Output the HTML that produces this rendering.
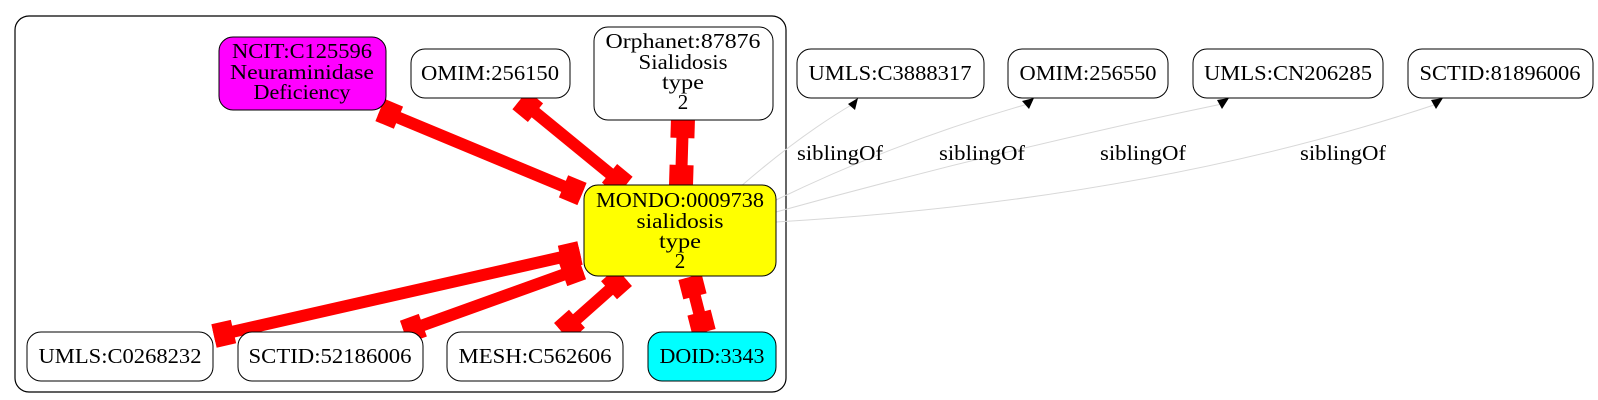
<!DOCTYPE html>
<html><head><meta charset="utf-8"><style>
html,body{margin:0;padding:0;background:#fff;}
svg{display:block;}
text{font-family:"Liberation Serif",serif;font-size:21px;fill:#000;}
</style></head><body>
<svg width="1598" height="400" viewBox="0 0 1598 400" xmlns="http://www.w3.org/2000/svg">
<rect x="15" y="16" width="771" height="376" rx="14" fill="#fff" stroke="#000" stroke-width="1.2"/>

<g fill="none" stroke="#d8d8d8" stroke-width="1">
<path d="M740,187 Q800,135 853,104"/>
<path d="M776,200 Q900,140 1028,104"/>
<path d="M776,212 Q1000,150 1222,104"/>
<path d="M776,222 Q1150,200 1437,104"/>
</g>
<g fill="#000">
<polygon points="858,98 848,104 855,110"/>
<polygon points="1034,98 1022,101 1029,109"/>
<polygon points="1229,98 1217,100 1222,109"/>
<polygon points="1443,98 1431,100 1436,109"/>
</g>
<g text-anchor="middle" lengthAdjust="spacingAndGlyphs">
<text x="840" y="160" textLength="86" lengthAdjust="spacingAndGlyphs">siblingOf</text>
<text x="982" y="160" textLength="86" lengthAdjust="spacingAndGlyphs">siblingOf</text>
<text x="1143" y="160" textLength="86" lengthAdjust="spacingAndGlyphs">siblingOf</text>
<text x="1343" y="160" textLength="86" lengthAdjust="spacingAndGlyphs">siblingOf</text>
</g>

<g stroke="red" stroke-width="12">
<line x1="380" y1="110" x2="582" y2="194"/>
<line x1="520" y1="100" x2="625" y2="186"/>
<line x1="683" y1="118" x2="681" y2="185"/>
<line x1="214" y1="336" x2="580" y2="253"/>
<line x1="404" y1="332" x2="582" y2="268"/>
<line x1="562" y1="332" x2="624" y2="277"/>
<line x1="704" y1="332" x2="690" y2="277"/>
</g>
<g fill="red">
<rect x="0" y="-12" width="20" height="24" transform="translate(380,110) rotate(22.6)"/>
<rect x="0" y="-12" width="20" height="24" transform="translate(582,194) rotate(202.6)"/>
<rect x="0" y="-12" width="20" height="24" transform="translate(520,100) rotate(39.3)"/>
<rect x="0" y="-12" width="20" height="24" transform="translate(625,186) rotate(219.3)"/>
<rect x="0" y="-12" width="20" height="24" transform="translate(683,118) rotate(91.7)"/>
<rect x="0" y="-12" width="20" height="24" transform="translate(681,185) rotate(271.7)"/>
<rect x="0" y="-12" width="20" height="24" transform="translate(214,336) rotate(-12.8)"/>
<rect x="0" y="-12" width="20" height="24" transform="translate(580,253) rotate(167.2)"/>
<rect x="0" y="-12" width="20" height="24" transform="translate(404,332) rotate(-19.8)"/>
<rect x="0" y="-12" width="20" height="24" transform="translate(582,268) rotate(160.2)"/>
<rect x="0" y="-12" width="20" height="24" transform="translate(562,332) rotate(-41.6)"/>
<rect x="0" y="-12" width="20" height="24" transform="translate(624,277) rotate(138.4)"/>
<rect x="0" y="-12" width="20" height="24" transform="translate(704,332) rotate(-104.3)"/>
<rect x="0" y="-12" width="20" height="24" transform="translate(690,277) rotate(75.7)"/>
</g>

<g stroke="#000" stroke-width="1">
<rect x="219" y="37" width="167" height="73" rx="14" fill="#ff00ff"/>
<rect x="411" y="49" width="159" height="49" rx="14" fill="#fff"/>
<rect x="594" y="27" width="179" height="93" rx="14" fill="#fff"/>
<rect x="584" y="185" width="192" height="91" rx="14" fill="#ffff00"/>
<rect x="27" y="332" width="186" height="49" rx="14" fill="#fff"/>
<rect x="238" y="332" width="185" height="49" rx="14" fill="#fff"/>
<rect x="447" y="332" width="176" height="49" rx="14" fill="#fff"/>
<rect x="648" y="332" width="128" height="49" rx="14" fill="#00ffff"/>
<rect x="797" y="49" width="187" height="49" rx="14" fill="#fff"/>
<rect x="1008" y="49" width="160" height="49" rx="14" fill="#fff"/>
<rect x="1193" y="49" width="190" height="49" rx="14" fill="#fff"/>
<rect x="1408" y="49" width="185" height="49" rx="14" fill="#fff"/>
</g>
<g text-anchor="middle">
<text x="302" y="58" textLength="140" lengthAdjust="spacingAndGlyphs">NCIT:C125596</text>
<text x="302" y="79" textLength="144" lengthAdjust="spacingAndGlyphs">Neuraminidase</text>
<text x="302" y="99" textLength="97" lengthAdjust="spacingAndGlyphs">Deficiency</text>
<text x="490" y="80" textLength="138" lengthAdjust="spacingAndGlyphs">OMIM:256150</text>
<text x="683" y="48" textLength="155" lengthAdjust="spacingAndGlyphs">Orphanet:87876</text>
<text x="683" y="69" textLength="89" lengthAdjust="spacingAndGlyphs">Sialidosis</text>
<text x="683" y="89" textLength="42" lengthAdjust="spacingAndGlyphs">type</text>
<text x="683" y="109">2</text>
<text x="680" y="207" textLength="168" lengthAdjust="spacingAndGlyphs">MONDO:0009738</text>
<text x="680" y="228" textLength="87" lengthAdjust="spacingAndGlyphs">sialidosis</text>
<text x="680" y="248" textLength="42" lengthAdjust="spacingAndGlyphs">type</text>
<text x="680" y="268">2</text>
<text x="120" y="363" textLength="163" lengthAdjust="spacingAndGlyphs">UMLS:C0268232</text>
<text x="330" y="363" textLength="163" lengthAdjust="spacingAndGlyphs">SCTID:52186006</text>
<text x="535" y="363" textLength="153" lengthAdjust="spacingAndGlyphs">MESH:C562606</text>
<text x="712" y="363" textLength="105" lengthAdjust="spacingAndGlyphs">DOID:3343</text>
<text x="890" y="80" textLength="163" lengthAdjust="spacingAndGlyphs">UMLS:C3888317</text>
<text x="1088" y="80" textLength="137" lengthAdjust="spacingAndGlyphs">OMIM:256550</text>
<text x="1288" y="80" textLength="168" lengthAdjust="spacingAndGlyphs">UMLS:CN206285</text>
<text x="1500" y="80" textLength="161" lengthAdjust="spacingAndGlyphs">SCTID:81896006</text>
</g>
</svg>
</body></html>
